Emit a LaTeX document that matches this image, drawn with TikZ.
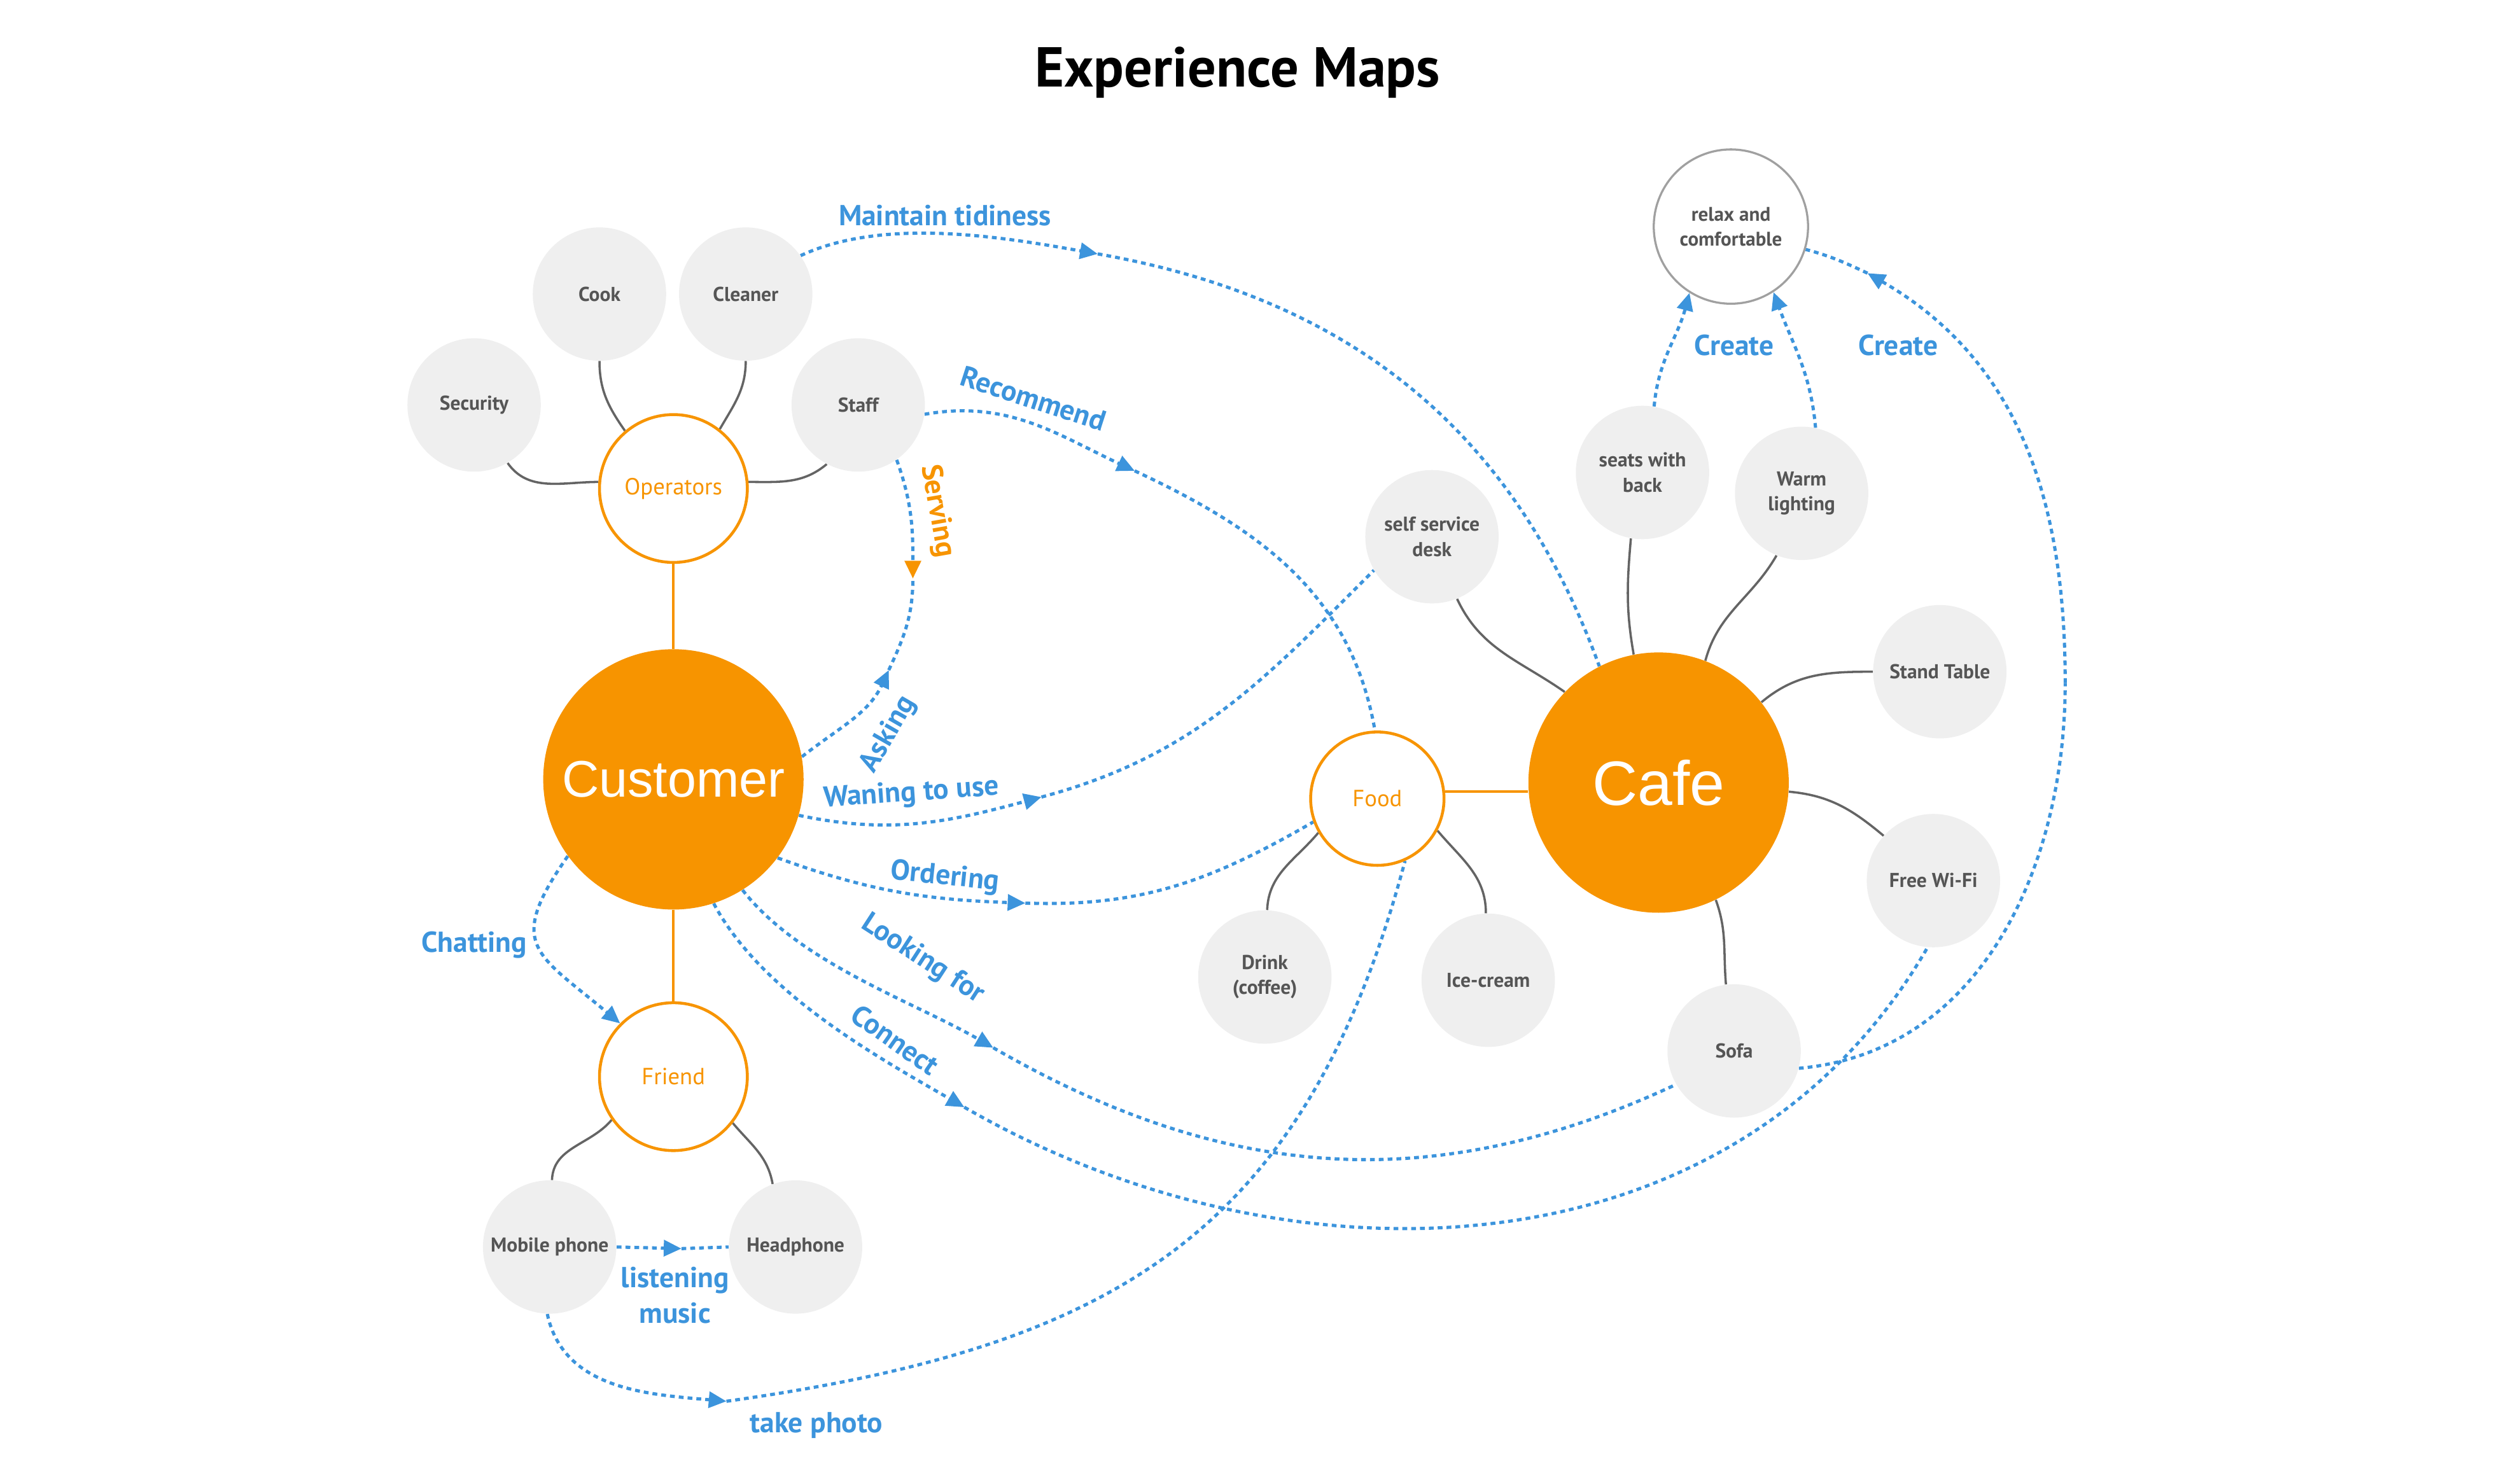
\documentclass[tikz,border=0pt]{standalone}
\usepackage{fontspec}
\setmainfont{PT Sans}
\newfontfamily\arialfont{Liberation Sans}
\usetikzlibrary{arrows.meta,backgrounds}
\definecolor{orA}{RGB}{247,148,0}
\definecolor{blA}{RGB}{60,148,220}
\definecolor{grF}{RGB}{239,239,239}
\definecolor{grT}{RGB}{85,85,85}
\definecolor{grL}{RGB}{100,100,100}
\definecolor{grB}{RGB}{160,160,160}
\begin{document}
\begin{tikzpicture}[x=1pt,y=1pt,
  big/.style={circle,fill=orA,minimum size=162pt,inner sep=0pt,text=white,font=\arialfont\fontsize{32}{36}\selectfont},
  sub/.style={circle,draw=orA,line width=1.8pt,fill=white,minimum size=92pt,inner sep=0pt,text=orA,font=\fontsize{14.5}{16}\selectfont},
  leaf/.style={circle,fill=grF,minimum size=83pt,inner sep=0pt,text=grT,align=center,font=\bfseries\fontsize{12.5}{15.5}\selectfont},
  goal/.style={circle,draw=grB,line width=1.3pt,fill=white,minimum size=96pt,inner sep=0pt,text=grT,align=center,font=\bfseries\fontsize{12.3}{15.5}\selectfont},
  link/.style={draw=grL,line width=1.4pt},
  olink/.style={draw=orA,line width=1.8pt},
  flow/.style={draw=blA,line width=2pt,dash pattern=on 3pt off 2.5pt},
  tip/.style={-{Triangle[length=11pt,width=10pt]}},
  otip/.style={-{Triangle[length=11pt,width=10pt,color=orA]}},
  lbl/.style={text=blA,font=\bfseries\fontsize{18}{22}\selectfont},
]
\path[use as bounding box] (0,0) rectangle (1568,-912);
\node[font=\bfseries\fontsize{35}{40}\selectfont] (title) at (770,-45) {Experience Maps};

\node[big] (cust) at (419,-485) {Customer};
\node[big,font=\arialfont\fontsize{39}{42}\selectfont] (cafe) at (1032,-487) {Cafe};
\node[sub] (ops) at (419,-304) {Operators};
\node[sub] (friend) at (419,-670) {Friend};
\node[sub,minimum size=83pt] (food) at (857,-497) {Food};
\node[leaf] (sec) at (295,-252) {Security};
\node[leaf] (cook) at (373,-183) {Cook};
\node[leaf] (clean) at (464,-183) {Cleaner};
\node[leaf] (staff) at (534,-252) {Staff};
\node[leaf] (mob) at (342,-776) {Mobile phone};
\node[leaf] (head) at (495,-776) {Headphone};
\node[leaf] (drink) at (787,-608) {Drink\\(coffee)};
\node[leaf] (ice) at (926,-610) {Ice-cream};
\node[leaf] (desk) at (891,-334) {self service\\desk};
\node[leaf] (seats) at (1022,-294) {seats with\\back};
\node[leaf] (warm) at (1121,-307) {Warm\\lighting};
\node[leaf] (stand) at (1207,-418) {Stand Table};
\node[leaf] (wifi) at (1203,-548) {Free Wi-Fi};
\node[leaf] (sofa) at (1079,-654) {Sofa};
\node[goal] (relax) at (1077,-141) {relax and\\comfortable};

\begin{scope}[on background layer]
% grey and orange links
\draw[link] (sec.-60) to[out=-55,in=180] (ops.175);
\draw[link] (cook.-90) to[out=-90,in=125] (ops.130);
\draw[link] (clean.-90) to[out=-90,in=60] (ops.52);
\draw[link] (staff.-118) to[out=-140,in=0] (ops.5);
\draw[olink] (ops.south) -- (cust.north);
\draw[olink] (cust.south) -- (friend.north);
\draw[link] (friend.-145) to[out=-130,in=88] (mob.88);
\draw[link] (friend.-38) to[out=-50,in=100] (head.110);
\draw[link] (food.-150) to[out=-130,in=88] (drink.88);
\draw[link] (food.-28) to[out=-50,in=90] (ice.92);
\draw[olink] (food.6) -- (food.6 -| cafe.west);
\draw[link] (desk.-68) to[out=-65,in=145] (cafe.136);
\draw[link] (seats.-100) to[out=-95,in=100] (cafe.101);
\draw[link] (warm.-112) to[out=-120,in=75] (cafe.69);
\draw[link] (cafe.38) to[out=40,in=180] (stand.180);
\draw[link] (cafe.-4) to[out=-5,in=140] (wifi.138);
\draw[link] (cafe.-64) to[out=-70,in=95] (sofa.97);

% blue flows
\coordinate (mtA) at (683,-158);
\draw[flow,tip] (clean.35) to[out=25,in=170,looseness=0.8] (mtA);
\draw[flow] (mtA) to[out=-10,in=110] (cafe.117);

\coordinate (rcA) at (706,-293);
\draw[flow,tip] (staff.-8) to[out=10,in=155] (rcA);
\draw[flow] (rcA) to[out=-25,in=100] (food.92);

\coordinate (svA) at (568,-360);
\coordinate (akA) at (553,-417);
\draw[flow,tip] (cust.10) to[out=38,in=-115] (akA);
\draw[flow] (akA) to[out=65,in=-90] (svA);
\draw[flow,otip] (staff.-55) to[out=-70,in=90] (svA);

\coordinate (wuA) at (648,-496);
\draw[flow,tip] (cust.-16) to[out=-12,in=195] (wuA);
\draw[flow] (wuA) to[out=15,in=225] (desk.-150);

\coordinate (odA) at (638,-562);
\draw[flow,tip] (cust.-37) to[out=-20,in=178] (odA);
\draw[flow] (odA) to[out=-2,in=210] (food.200);

\coordinate (lfA) at (618,-652);
\draw[flow,tip] (cust.-58) to[out=-52,in=150,looseness=0.8] (lfA);
\draw[flow] (lfA) to[out=-30,in=205] (sofa.-150);

\coordinate (cnA) at (600,-689);
\draw[flow,tip] (cust.-72) to[out=-62,in=150,looseness=0.8] (cnA);
\draw[flow] (cnA) to[out=-30,in=240] (wifi.-95);

\draw[flow,tip] (cust.-144) to[out=-125,in=140,looseness=1.6] (friend.135);

\coordinate (lmA) at (424,-777);
\draw[flow,tip] (mob.east) -- (lmA);
\draw[flow] (lmA) -- (head.west);

\coordinate (tpA) at (452,-872);
\draw[flow,tip] (mob.-92) to[out=-78,in=175] (tpA);
\draw[flow] (tpA) to[out=8,in=255,looseness=1.15] (food.-66);

\draw[flow,tip] (seats.80) to[out=85,in=-105] (relax.-122);
\draw[flow,tip] (warm.78) to[out=95,in=-70] (relax.-57);

\coordinate (rpA) at (1285,-425);
\coordinate (crA) at (1162,-170);
\draw[flow] (sofa.-15) to[out=5,in=-90] (rpA);
\draw[flow,tip] (rpA) to[out=90,in=-30] (crA);
\draw[flow] (crA) to[out=155,in=-15] (relax.-17);
\end{scope}

% flow labels
\node[lbl] (lMaint) at (588,-134) {Maintain tidiness};
\node[lbl,rotate=-18] (lRec) at (643,-248) {Recommend};
\node[lbl,text=orA,rotate=-80] (lServ) at (583,-318) {Serving};
\node[lbl,rotate=60] (lAsk) at (553,-457) {Asking};
\node[lbl,rotate=4] (lWan) at (567,-494) {Waning to use};
\node[lbl,rotate=-6] (lOrd) at (588,-546) {Ordering};
\node[lbl,rotate=-33] (lLook) at (574,-597) {Looking for};
\node[lbl,rotate=-35] (lConn) at (557,-647) {Connect};
\node[lbl] (lChat) at (295,-588) {Chatting};
\node[lbl,align=center] (lList) at (420,-806) {listening\\music};
\node[lbl] (lPhoto) at (508,-887) {take photo};
\node[lbl] (lCr1) at (1079,-215) {Create};
\node[lbl] (lCr2) at (1181,-215) {Create};
\end{tikzpicture}
\end{document}
